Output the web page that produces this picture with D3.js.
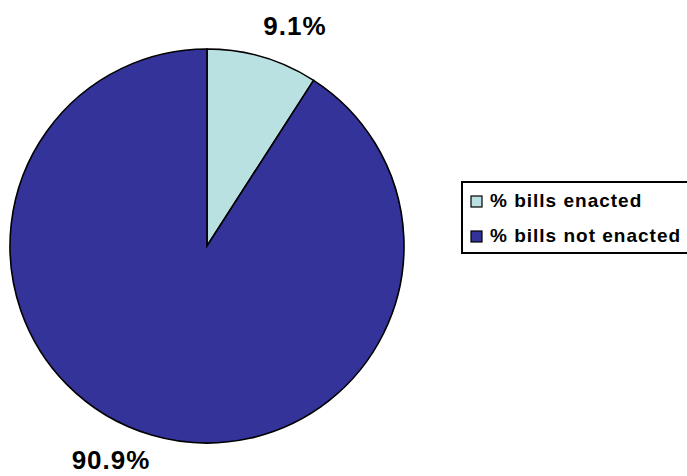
<!DOCTYPE html>
<html><head><meta charset="utf-8">
<script src="https://cdn.jsdelivr.net/npm/d3@7"></script>
<style>body{margin:0;background:#fff;}svg{display:block;}</style>
</head><body>
<svg id="c" width="687" height="476"></svg>
<script>
const categories = ["% bills enacted", "% bills not enacted"];
const values = [9.1, 90.9];
const labels = ["9.1%", "90.9%"];
const colors = ["#B9E1E1", "#333399"];

const svg = d3.select("#c");
const cx = 207, cy = 246, r = 197;
const pie = d3.pie().sort(null).value(d => d)(values);
const arc = d3.arc().innerRadius(0).outerRadius(r);
const g = svg.append("g").attr("transform", `translate(${cx},${cy})`);
g.selectAll("path").data(pie).join("path")
  .attr("d", arc)
  .attr("fill", (d, i) => colors[i])
  .attr("stroke", "#000").attr("stroke-width", 1.6);

const labelPos = [[295, 35], [111, 469]];
svg.selectAll("text.lbl").data(labels).join("text")
  .attr("class", "lbl")
  .attr("x", (d, i) => labelPos[i][0]).attr("y", (d, i) => labelPos[i][1])
  .attr("text-anchor", "middle")
  .attr("font-family", "Liberation Sans, Arial, sans-serif")
  .attr("font-weight", "bold").attr("font-size", 26)
  .attr("letter-spacing", 1)
  .attr("fill", "#000")
  .text(d => d);

const lg = svg.append("g");
lg.append("rect").attr("x", 462).attr("y", 182).attr("width", 240).attr("height", 71)
  .attr("fill", "#fff").attr("stroke", "#000").attr("stroke-width", 2);
const items = lg.selectAll("g.it").data(categories).join("g").attr("class", "it")
  .attr("transform", (d, i) => `translate(471, ${196 + i * 35})`);
items.append("rect").attr("width", 11).attr("height", 11)
  .attr("fill", (d, i) => colors[i]).attr("stroke", "#000").attr("stroke-width", 1.2);
items.append("text").attr("x", 19).attr("y", 11)
  .attr("font-family", "Liberation Sans, Arial, sans-serif")
  .attr("font-weight", "bold").attr("font-size", 19)
  .attr("letter-spacing", 1)
  .attr("fill", "#000").text(d => d);
</script>
</body></html>
